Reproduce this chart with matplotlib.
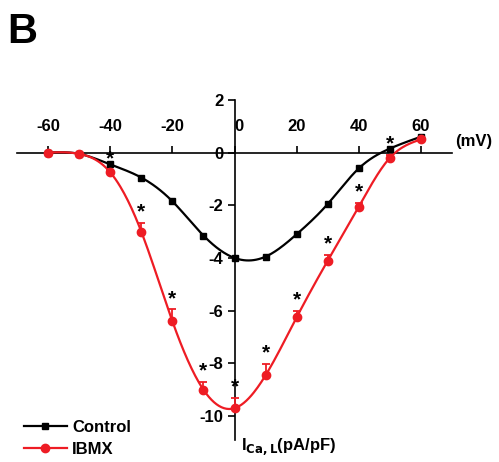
"""I-V curve of L-type Ca current, Control vs IBMX (panel B)."""

import matplotlib
matplotlib.use("Agg")
import matplotlib.pyplot as plt
import numpy as np

plt.rcParams["font.family"] = ["Liberation Sans", "DejaVu Sans"]
plt.rcParams["font.weight"] = "bold"

# test potentials (mV)
voltage = [-60, -50, -40, -30, -20, -10, 0, 10, 20, 30, 40, 50, 60]
# current density (pA/pF)
control = [0.0, -0.05, -0.45, -0.95, -1.85, -3.15, -4.0, -3.95, -3.1, -1.95, -0.6, 0.15, 0.6]
ibmx = [0.0, -0.05, -0.75, -3.0, -6.4, -9.0, -9.7, -8.45, -6.25, -4.1, -2.05, -0.2, 0.5]
ibmx_err = [0.0, 0.0, 0.1, 0.34, 0.45, 0.3, 0.4, 0.42, 0.23, 0.21, 0.15, 0.1, 0.0]
# potentials marked significant
star_at = [-40, -30, -20, -10, 0, 10, 20, 30, 40, 50]

x_ticks = [-60, -40, -20, 0, 20, 40, 60]
y_ticks = [-10, -8, -6, -4, -2, 0, 2]


def smooth(x, y, n=300):
    # natural cubic spline, only for drawing the smooth line
    x = np.asarray(x, float)
    y = np.asarray(y, float)
    h = np.diff(x)
    m = len(x)
    A = np.zeros((m, m))
    b = np.zeros(m)
    A[0, 0] = A[-1, -1] = 1
    for i in range(1, m - 1):
        A[i, i - 1] = h[i - 1]
        A[i, i] = 2 * (h[i - 1] + h[i])
        A[i, i + 1] = h[i]
        b[i] = 6 * ((y[i + 1] - y[i]) / h[i] - (y[i] - y[i - 1]) / h[i - 1])
    M = np.linalg.solve(A, b)
    xs = np.linspace(x[0], x[-1], n)
    idx = np.clip(np.searchsorted(x, xs) - 1, 0, m - 2)
    t0 = x[idx + 1] - xs
    t1 = xs - x[idx]
    hh = h[idx]
    ys = (M[idx] * t0 ** 3 / (6 * hh) + M[idx + 1] * t1 ** 3 / (6 * hh)
          + (y[idx] / hh - M[idx] * hh / 6) * t0
          + (y[idx + 1] / hh - M[idx + 1] * hh / 6) * t1)
    return xs, ys


fig = plt.figure(figsize=(4.99, 4.62), dpi=100)
ax = fig.add_axes([0.034, 0.048, 0.872, 0.736])

# curves
xs, ys = smooth(voltage, control)
ax.plot(xs, ys, color="black", lw=1.6, zorder=3)
xs, ys = smooth(voltage, ibmx)
ax.plot(xs, ys, color="#ee1c24", lw=1.6, zorder=4)

ax.plot(voltage, control, "s", color="black", ms=5, zorder=5)
ax.errorbar(voltage, ibmx, yerr=[np.zeros(len(ibmx_err)), ibmx_err], fmt="o",
            color="#ee1c24", ms=6, capsize=3, elinewidth=1.3, capthick=1.3, zorder=6)

for v in star_at:
    i = voltage.index(v)
    ax.annotate("*", (v, ibmx[i] + ibmx_err[i]), xytext=(0, 1),
                textcoords="offset points", ha="center", va="bottom",
                fontsize=15, fontweight="bold", zorder=7)

# legend handles
ax.plot([], [], "-s", color="black", lw=1.6, ms=5, label="Control")
ax.plot([], [], "-o", color="#ee1c24", lw=1.6, ms=6, label="IBMX")
handles, labels = ax.get_legend_handles_labels()
ax.legend(handles, labels, loc="lower left", bbox_to_anchor=(0.0, -0.07),
          frameon=False, fontsize=12, handlelength=2.6, handletextpad=0.3,
          labelspacing=0.4, borderaxespad=0)

# centred axes
ax.set_xlim(-70, 70)
ax.set_ylim(-10.9, 2)
for s in ["top", "right"]:
    ax.spines[s].set_visible(False)
ax.spines["left"].set_position(("data", 0))
ax.spines["bottom"].set_position(("data", 0))
ax.spines["left"].set_linewidth(1.2)
ax.spines["bottom"].set_linewidth(1.2)

ax.set_xticks(x_ticks)
ax.set_xticklabels([str(t) for t in x_ticks])
ax.tick_params(axis="x", direction="in", length=5, width=1.2, pad=-24,
               labelsize=12)
for lab in ax.get_xticklabels():
    lab.set_fontweight("bold")
    if lab.get_text() == "0":
        lab.set_horizontalalignment("left")

ax.set_yticks(y_ticks)
ax.set_yticklabels([str(t) for t in y_ticks])
ax.tick_params(axis="y", direction="out", length=5, width=1.2, pad=3,
               labelsize=12)
for lab in ax.get_yticklabels():
    lab.set_fontweight("bold")

ax.text(71, 0.42, "(mV)", fontsize=12, fontweight="bold", va="center",
        ha="left", clip_on=False)
ax.text(2, -11.15, r"I$_{\mathbf{Ca,L}}$(pA/pF)", fontsize=12,
        fontweight="bold", va="center", ha="left", clip_on=False)

fig.text(0.015, 0.975, "B", fontsize=30, fontweight="bold", va="top", ha="left")

fig.savefig("out.png", dpi=100)
